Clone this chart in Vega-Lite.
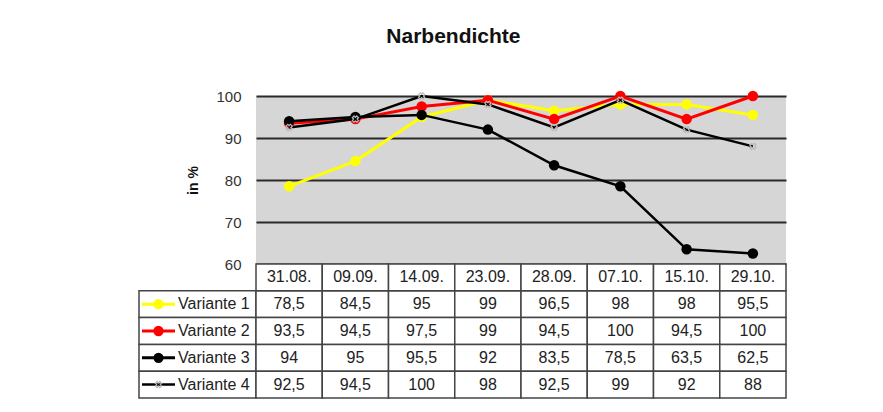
{
  "$schema": "https://vega.github.io/schema/vega-lite/v6.json",
  "background": "white",
  "autosize": {"type": "pad"},
  "padding": {"left": 136, "top": 26, "right": 0, "bottom": 0},
  "config": {
    "font": "Liberation Sans",
    "view": {"stroke": null},
    "locale": {"number": {"decimal": ",", "thousands": ".", "grouping": [3], "currency": ["", " €"]}}
  },
  "title": {"text": "Narbendichte", "fontSize": 21, "fontWeight": "bold", "color": "#111111", "anchor": "middle", "offset": 42, "dx": -8},
  "datasets": {
    "werte": [
      {"Datum": "31.08.", "Variante": "Variante 1", "Wert": 78.5},
      {"Datum": "09.09.", "Variante": "Variante 1", "Wert": 84.5},
      {"Datum": "14.09.", "Variante": "Variante 1", "Wert": 95},
      {"Datum": "23.09.", "Variante": "Variante 1", "Wert": 99},
      {"Datum": "28.09.", "Variante": "Variante 1", "Wert": 96.5},
      {"Datum": "07.10.", "Variante": "Variante 1", "Wert": 98},
      {"Datum": "15.10.", "Variante": "Variante 1", "Wert": 98},
      {"Datum": "29.10.", "Variante": "Variante 1", "Wert": 95.5},
      {"Datum": "31.08.", "Variante": "Variante 2", "Wert": 93.5},
      {"Datum": "09.09.", "Variante": "Variante 2", "Wert": 94.5},
      {"Datum": "14.09.", "Variante": "Variante 2", "Wert": 97.5},
      {"Datum": "23.09.", "Variante": "Variante 2", "Wert": 99},
      {"Datum": "28.09.", "Variante": "Variante 2", "Wert": 94.5},
      {"Datum": "07.10.", "Variante": "Variante 2", "Wert": 100},
      {"Datum": "15.10.", "Variante": "Variante 2", "Wert": 94.5},
      {"Datum": "29.10.", "Variante": "Variante 2", "Wert": 100},
      {"Datum": "31.08.", "Variante": "Variante 3", "Wert": 94},
      {"Datum": "09.09.", "Variante": "Variante 3", "Wert": 95},
      {"Datum": "14.09.", "Variante": "Variante 3", "Wert": 95.5},
      {"Datum": "23.09.", "Variante": "Variante 3", "Wert": 92},
      {"Datum": "28.09.", "Variante": "Variante 3", "Wert": 83.5},
      {"Datum": "07.10.", "Variante": "Variante 3", "Wert": 78.5},
      {"Datum": "15.10.", "Variante": "Variante 3", "Wert": 63.5},
      {"Datum": "29.10.", "Variante": "Variante 3", "Wert": 62.5},
      {"Datum": "31.08.", "Variante": "Variante 4", "Wert": 92.5},
      {"Datum": "09.09.", "Variante": "Variante 4", "Wert": 94.5},
      {"Datum": "14.09.", "Variante": "Variante 4", "Wert": 100},
      {"Datum": "23.09.", "Variante": "Variante 4", "Wert": 98},
      {"Datum": "28.09.", "Variante": "Variante 4", "Wert": 92.5},
      {"Datum": "07.10.", "Variante": "Variante 4", "Wert": 99},
      {"Datum": "15.10.", "Variante": "Variante 4", "Wert": 92},
      {"Datum": "29.10.", "Variante": "Variante 4", "Wert": 88}
    ],
    "varianten": [
      {"Variante": "Variante 1"},
      {"Variante": "Variante 2"},
      {"Variante": "Variante 3"},
      {"Variante": "Variante 4"}
    ]
  },
  "bounds": "flush",
  "columns": 2,
  "spacing": 0,
  "concat": [
    {
      "width": 117,
      "height": 168,
      "data": {"values": [{}]},
      "mark": {"type": "text", "text": ""}
    },
    {
      "width": 530,
      "height": 168,
      "data": {"name": "werte"},
      "view": {"fill": "#d6d6d6", "stroke": null},
      "encoding": {
        "x": {"field": "Datum", "type": "ordinal", "scale": {"type": "point", "padding": 0.5, "domain": ["31.08.", "09.09.", "14.09.", "23.09.", "28.09.", "07.10.", "15.10.", "29.10."]}, "axis": null},
        "y": {"field": "Wert", "type": "quantitative", "scale": {"domain": [60, 100], "nice": false, "zero": false},
          "axis": {"values": [60, 70, 80, 90, 100], "title": "in %", "grid": true, "gridColor": "#2a2a2a", "gridWidth": 2, "domain": false, "ticks": false, "labelPadding": 15, "labelFontSize": 15, "labelColor": "#333333", "labelFont": "Liberation Sans", "titleFontSize": 14, "titleFontWeight": "bold", "titleColor": "#111111", "titlePadding": 15}}
      },
      "layer": [
        {"transform": [{"filter": "datum.Variante === 'Variante 1'"}], "mark": {"type": "line", "color": "#ffff00", "strokeWidth": 3}},
        {"transform": [{"filter": "datum.Variante === 'Variante 1'"}], "mark": {"type": "point", "filled": true, "opacity": 1, "color": "#ffff00", "size": 110}},
        {"transform": [{"filter": "datum.Variante === 'Variante 2'"}], "mark": {"type": "line", "color": "#ff0000", "strokeWidth": 3}},
        {"transform": [{"filter": "datum.Variante === 'Variante 2'"}], "mark": {"type": "point", "filled": true, "opacity": 1, "color": "#ff0000", "size": 110}},
        {"transform": [{"filter": "datum.Variante === 'Variante 3'"}], "mark": {"type": "line", "color": "#000000", "strokeWidth": 2.5}},
        {"transform": [{"filter": "datum.Variante === 'Variante 3'"}], "mark": {"type": "point", "filled": true, "opacity": 1, "color": "#000000", "size": 110}},
        {"transform": [{"filter": "datum.Variante === 'Variante 4'"}], "mark": {"type": "line", "color": "#000000", "strokeWidth": 2.5}},
        {"transform": [{"filter": "datum.Variante === 'Variante 4'"}], "mark": {"type": "point", "shape": "cross", "angle": 45, "filled": false, "opacity": 1, "color": "#bbbbbb", "strokeWidth": 1.2, "size": 40}}
      ]
    },
    {
      "width": 117,
      "height": 134,
      "data": {"name": "varianten"},
      "encoding": {
        "y": {"field": "Variante", "type": "nominal", "scale": {"type": "band", "domain": ["Datum", "Variante 1", "Variante 2", "Variante 3", "Variante 4"], "paddingInner": 0, "paddingOuter": 0}, "axis": null}
      },
      "layer": [
        {"mark": {"type": "rect", "fill": "white", "stroke": "#444444", "strokeWidth": 1.5}},
        {
          "mark": {"type": "point", "filled": true, "opacity": 1, "strokeWidth": 3, "size": 1089, "shape": "M-1,0H1M0.22,0A0.22,0.22,0,1,1,-0.22,0A0.22,0.22,0,1,1,0.22,0Z"},
          "transform": [{"filter": "datum.Variante !== 'Variante 4'"}],
          "encoding": {
            "x": {"datum": "Symbol", "type": "nominal", "scale": {"type": "band", "domain": ["Symbol", "Text", "Rest"], "paddingInner": 0, "paddingOuter": 0}, "axis": null},
            "fill": {"field": "Variante", "type": "nominal", "scale": {"domain": ["Variante 1", "Variante 2", "Variante 3", "Variante 4"], "range": ["#ffff00", "#ff0000", "#000000", "#000000"]}, "legend": null},
            "stroke": {"field": "Variante", "type": "nominal", "scale": {"domain": ["Variante 1", "Variante 2", "Variante 3", "Variante 4"], "range": ["#ffff00", "#ff0000", "#000000", "#000000"]}, "legend": null}
          }
        },
        {
          "mark": {"type": "point", "filled": false, "opacity": 1, "strokeWidth": 2.5, "size": 1089, "shape": "M-1,0H1", "color": "#000000"},
          "transform": [{"filter": "datum.Variante === 'Variante 4'"}],
          "encoding": {
            "x": {"datum": "Symbol", "type": "nominal"}
          }
        },
        {
          "mark": {"type": "point", "shape": "cross", "angle": 45, "filled": false, "opacity": 1, "color": "#bbbbbb", "strokeWidth": 1.2, "size": 40},
          "transform": [{"filter": "datum.Variante === 'Variante 4'"}],
          "encoding": {
            "x": {"datum": "Symbol", "type": "nominal"}
          }
        },
        {
          "mark": {"type": "text", "align": "left", "baseline": "middle", "fontSize": 16, "color": "#222222", "dx": 0},
          "encoding": {
            "x": {"datum": "Text", "type": "nominal", "bandPosition": 0},
            "text": {"field": "Variante"}
          }
        }
      ]
    },
    {
      "width": 530,
      "height": 134,
      "data": {"name": "werte"},
      "encoding": {
        "x": {"field": "Datum", "type": "ordinal", "scale": {"type": "band", "paddingInner": 0, "paddingOuter": 0, "domain": ["31.08.", "09.09.", "14.09.", "23.09.", "28.09.", "07.10.", "15.10.", "29.10."]}, "axis": null},
        "y": {"field": "Variante", "type": "nominal", "scale": {"type": "band", "domain": ["Datum", "Variante 1", "Variante 2", "Variante 3", "Variante 4"], "paddingInner": 0, "paddingOuter": 0}, "axis": null}
      },
      "layer": [
        {"mark": {"type": "rect", "fill": "white", "stroke": "#444444", "strokeWidth": 1.5}},
        {"transform": [{"filter": "datum.Variante === 'Variante 1'"}], "mark": {"type": "rect", "fill": "white", "stroke": "#444444", "strokeWidth": 1.5}, "encoding": {"y": {"datum": "Datum", "type": "nominal"}}},
        {"mark": {"type": "text", "fontSize": 16, "color": "#222222", "baseline": "middle"}, "encoding": {"text": {"field": "Wert", "type": "quantitative", "format": ".1~f"}}},
        {"transform": [{"filter": "datum.Variante === 'Variante 1'"}], "mark": {"type": "text", "fontSize": 16, "color": "#222222", "baseline": "middle"}, "encoding": {"y": {"datum": "Datum", "type": "nominal"}, "text": {"field": "Datum"}}}
      ]
    }
  ]
}
